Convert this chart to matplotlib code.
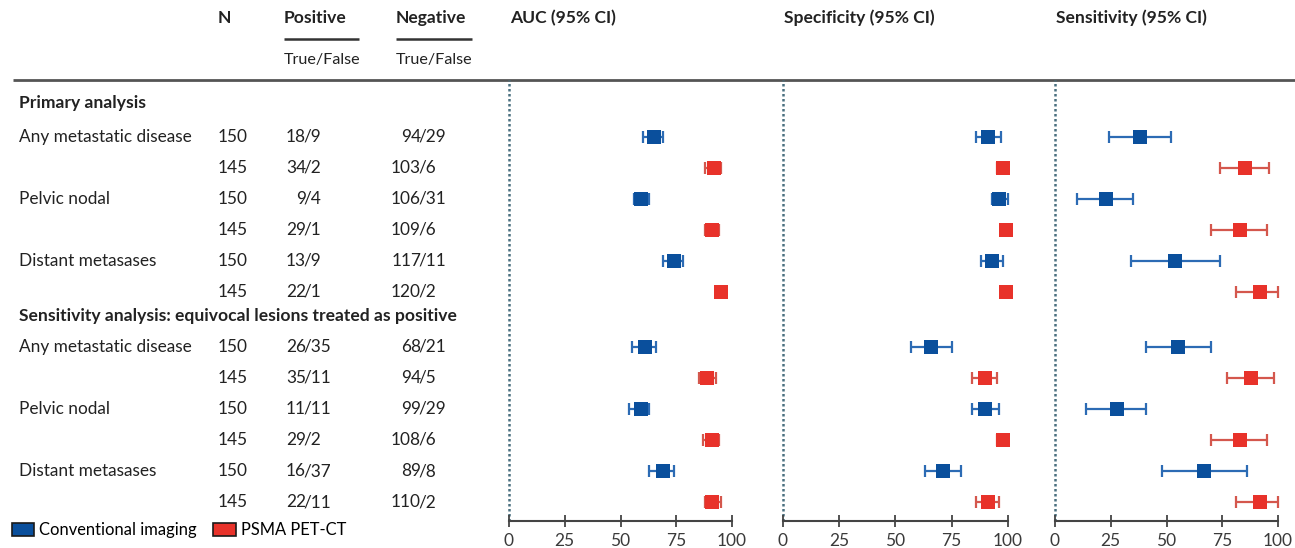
import matplotlib
matplotlib.use("Agg")
import matplotlib.pyplot as plt
from matplotlib.patches import Patch

plt.rcParams['font.family'] = ['Lato', 'DejaVu Sans']

# ---------------- data ----------------
sections = ["Primary analysis", "Sensitivity analysis: equivocal lesions treated as positive"]
groups = ["Any metastatic disease", "Pelvic nodal", "Distant metasases"]
modalities = ["Conventional imaging", "PSMA PET-CT"]
row_modality = [0, 1, 0, 1, 0, 1, 0, 1, 0, 1, 0, 1]
n_values = [150, 145, 150, 145, 150, 145, 150, 145, 150, 145, 150, 145]
pos_tf = ["18/9", "34/2", "9/4", "29/1", "13/9", "22/1",
          "26/35", "35/11", "11/11", "29/2", "16/37", "22/11"]
neg_tf = ["94/29", "103/6", "106/31", "109/6", "117/11", "120/2",
          "68/21", "94/5", "99/29", "108/6", "89/8", "110/2"]

auc_est = [65, 92, 59, 91, 74, 95, 61, 89, 59, 91, 69, 91]
auc_lo = [60, 88, 56, 88, 69, 93, 55, 85, 54, 87, 63, 88]
auc_hi = [69, 95, 63, 94, 78, 97, 66, 93, 63, 94, 74, 95]

spec_est = [91, 98, 96, 99, 93, 99, 66, 90, 90, 98, 71, 91]
spec_lo = [86, 95, 93, 97, 88, 97, 57, 84, 84, 95, 63, 86]
spec_hi = [97, 100, 100, 100, 98, 100, 75, 95, 96, 100, 79, 96]

sens_est = [38, 85, 23, 83, 54, 92, 55, 88, 28, 83, 67, 92]
sens_lo = [24, 74, 10, 70, 34, 81, 41, 77, 14, 70, 48, 81]
sens_hi = [52, 96, 35, 95, 74, 100, 70, 98, 41, 95, 86, 100]

panel_titles = ["AUC (95% CI)", "Specificity (95% CI)", "Sensitivity (95% CI)"]
x_ticks = [0, 25, 50, 75, 100]
header_n = "N"
header_pos = "Positive"
header_neg = "Negative"
header_sub = "True/False"

# ---------------- styling / layout ----------------
marker_colors = ["#0a4f9c", "#e8322a"]
err_colors = ["#2c6bb4", "#d4574d"]
W, H = 1295, 548
TOP_PX, BOT_PX = 80, 521
ROW0, ROWH = 136.7, 31.04
SECTION_GAP = 0.77
row_idx = [i + (SECTION_GAP if i >= 6 else 0) for i in range(12)]


def idx2px(i):
    return ROW0 + ROWH * i


def px2idx(p):
    return (p - ROW0) / ROWH


fig = plt.figure(figsize=(W / 100, H / 100), dpi=100)

# table / background axes in pixel coordinates
tab = fig.add_axes([0, 0, 1, 1])
tab.set_xlim(0, W)
tab.set_ylim(H, 0)
tab.axis("off")

FS = 12.4
FSB = 12.6
txt_col = "#222222"
# headers
tab.text(218, 18, header_n, fontsize=FSB, fontweight="bold", va="center", ha="left", color=txt_col)
tab.text(284, 18, header_pos, fontsize=FSB, fontweight="bold", va="center", ha="left", color=txt_col)
tab.text(396, 18, header_neg, fontsize=FSB, fontweight="bold", va="center", ha="left", color=txt_col)
tab.plot([284, 359], [39, 39], color="#333333", lw=1.8, solid_capstyle="butt")
tab.plot([396, 472], [39, 39], color="#333333", lw=1.8, solid_capstyle="butt")
tab.text(284, 60, header_sub, fontsize=11.6, va="center", ha="left", color=txt_col)
tab.text(396, 60, header_sub, fontsize=11.6, va="center", ha="left", color=txt_col)
tab.plot([13, W], [TOP_PX, TOP_PX], color="#555555", lw=2.0, solid_capstyle="butt")

# section headings
tab.text(19, 103, sections[0], fontsize=FSB, fontweight="bold", va="center", ha="left", color=txt_col)
tab.text(19, 316, sections[1], fontsize=FSB, fontweight="bold", va="center", ha="left", color=txt_col)

# rows
POS_SLASH, NEG_SLASH = 306, 421
for i, yi in enumerate(row_idx):
    ypx = idx2px(yi)
    if row_modality[i] == 0:
        tab.text(19, ypx, groups[(i % 6) // 2], fontsize=FS, va="center", ha="left", color=txt_col)
    tab.text(218, ypx, str(n_values[i]), fontsize=FS, va="center", ha="left", color=txt_col)
    for s, xs in ((pos_tf[i], POS_SLASH), (neg_tf[i], NEG_SLASH)):
        num, den = s.split("/")
        tab.text(xs, ypx, num, fontsize=FS, va="center", ha="right", color=txt_col)
        tab.text(xs - 2.5, ypx, "/" + den, fontsize=FS, va="center", ha="left", color=txt_col)

# panel axes
panel_px = [(509, 732), (783, 1008), (1055, 1278)]
panel_data = [(auc_est, auc_lo, auc_hi), (spec_est, spec_lo, spec_hi), (sens_est, sens_lo, sens_hi)]
for k, ((L, R), (est, lo, hi)) in enumerate(zip(panel_px, panel_data)):
    ax = fig.add_axes([L / W, 1 - BOT_PX / H, (R - L) / W, (BOT_PX - TOP_PX) / H])
    ax.patch.set_alpha(0)
    ax.set_xlim(0, 100)
    ax.set_ylim(px2idx(BOT_PX), px2idx(TOP_PX))
    for sp in ("top", "right", "left"):
        ax.spines[sp].set_visible(False)
    ax.spines["bottom"].set_color("#444444")
    ax.spines["bottom"].set_linewidth(1.5)
    ax.set_yticks([])
    ax.set_xticks(x_ticks)
    ax.set_xticklabels([str(t) for t in x_ticks])
    ax.tick_params(axis="x", direction="inout", length=8, width=1.3, color="#444444",
                   labelsize=12.5, labelcolor="#3a3a3a", pad=5)
    ax.axvline(0, color="#4a7080", lw=1.8, ls=(0, (1.0, 1.0)), zorder=1)
    for m in (0, 1):
        rows = [i for i in range(12) if row_modality[i] == m]
        xs = [est[i] for i in rows]
        ys = [row_idx[i] for i in rows]
        xerr = [[est[i] - lo[i] for i in rows], [hi[i] - est[i] for i in rows]]
        eb = ax.errorbar(xs, ys, xerr=xerr, fmt="s", color=marker_colors[m], ecolor=err_colors[m],
                         elinewidth=1.6, capsize=4, capthick=1.6, markersize=10.5, zorder=3)
        eb[0].set_markeredgewidth(0)
    for art in ax.get_children():
        if hasattr(art, "set_clip_on"):
            art.set_clip_on(False)
    fig.text(L / W + 1 / W, 1 - 18 / H, panel_titles[k], fontsize=FSB, fontweight="bold",
             va="center", ha="left", color=txt_col)

# legend
handles = [Patch(facecolor=marker_colors[m], edgecolor="#1a1a1a", linewidth=1.2) for m in (0, 1)]
fig.legend(handles, modalities, loc="lower left", bbox_to_anchor=(12 / W, 10 / H), ncol=2,
           frameon=False, fontsize=11.9, handlelength=1.35, handleheight=0.85, handletextpad=0.3,
           columnspacing=1.0, borderaxespad=0, borderpad=0)

fig.savefig("out.png", dpi=100)
